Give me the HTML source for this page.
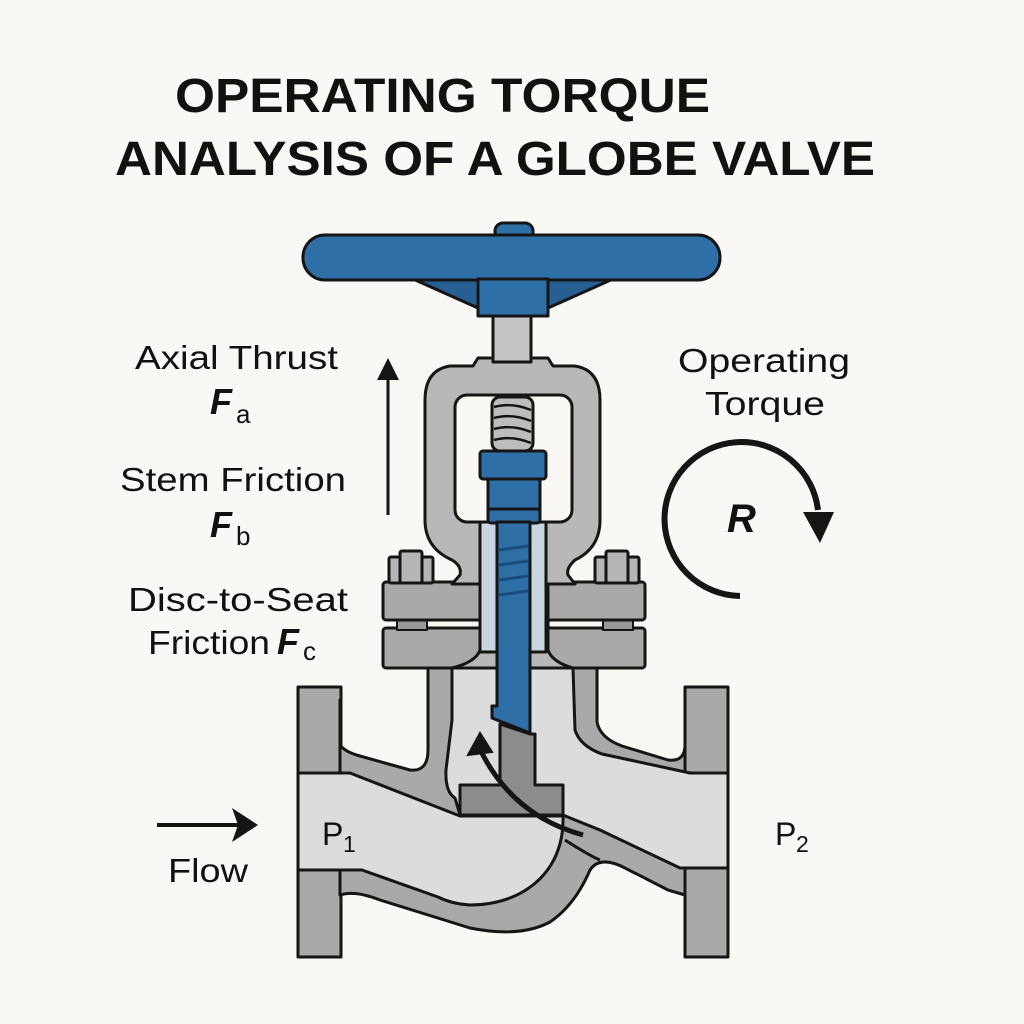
<!DOCTYPE html>
<html><head><meta charset="utf-8"><style>
html,body{margin:0;padding:0;background:#f9f8f5;}
svg{display:block;}
text{font-family:"Liberation Sans",sans-serif;fill:#111;}
</style></head><body>
<svg width="1024" height="1024" viewBox="0 0 1024 1024" xmlns="http://www.w3.org/2000/svg">
<rect width="1024" height="1024" fill="#f9f8f5"/>
<text x="175" y="112" font-size="48" font-weight="bold" textLength="535" lengthAdjust="spacingAndGlyphs">OPERATING TORQUE</text>
<text x="115" y="175" font-size="48" font-weight="bold" textLength="760" lengthAdjust="spacingAndGlyphs">ANALYSIS OF A GLOBE VALVE</text>

<g stroke="#151515" stroke-width="3" stroke-linejoin="round">
<rect x="298" y="687" width="43" height="270" fill="#a9a9a9"/>
<rect x="685" y="687" width="43" height="270" fill="#a9a9a9"/>
<path d="M340,700 L340,745 Q345,752 360,756 L410,770 Q428,772 428,750 L428,666 L597,666 L597,722 Q600,738 622,746 L668,760 Q685,762 685,745 L685,700 L685,895 L668,890 L625,868 Q600,855 590,870 Q575,905 550,922 Q520,938 470,928 L380,900 Q355,890 340,895 Z" fill="#a9a9a9"/>
<path d="M452,668 L573,668 L575,730 Q580,746 602,754 L690,773 L728,773 L728,868 L680,868 L600,830 Q570,818 563,815 L460,815 L455,798 Q445,792 446,770 L452,720 Z" fill="#dcdcdc"/>
<path d="M298,773 L350,773 L460,816 L563,816 C565,870 525,905 470,905 Q452,904 438,897 L362,870 L298,870 Z" fill="#dcdcdc"/>
<path d="M565,840 Q590,856 600,860" fill="none"/>

<rect x="383" y="628" width="262" height="40" rx="3" fill="#a9a9a9"/>
<rect x="397" y="618" width="30" height="12" fill="#999" stroke-width="2"/>
<rect x="603" y="618" width="30" height="12" fill="#999" stroke-width="2"/>
<rect x="383" y="582" width="262" height="38" rx="3" fill="#a9a9a9"/>
<rect x="389" y="557" width="44" height="26" rx="2" fill="#b5b5b5"/>
<rect x="400" y="551" width="22" height="32" rx="2" fill="#b5b5b5"/>
<rect x="595" y="557" width="44" height="26" rx="2" fill="#b5b5b5"/>
<rect x="606" y="551" width="22" height="32" rx="2" fill="#b5b5b5"/>
<path d="M478,358 L548,358 L553,366 L575,366 Q600,370 600,400 L600,520 Q600,548 575,560 Q566,568 568,575 L575,584 L548,584 L548,650 Q552,662 573,668 L452,668 Q476,662 480,650 L480,584 L452,584 L460,575 Q462,566 452,560 Q425,548 425,520 L425,400 Q425,370 450,366 L473,366 Z" fill="#b8b8b8"/>
<rect x="455" y="395" width="117" height="127" rx="12" fill="#f9f8f5"/>
<rect x="480" y="522" width="66" height="130" fill="#c9d6e0"/>
<rect x="493" y="312" width="38" height="50" fill="#c4c4c4"/>
<rect x="492" y="397" width="41" height="54" rx="8" fill="#bdbdbd"/>
<path d="M494,407 Q512,402 531,410 M494,418 Q512,413 531,421 M494,429 Q512,424 531,432 M494,440 Q512,435 531,443" fill="none" stroke-width="2.5"/>
<rect x="480" y="451" width="66" height="28" rx="3" fill="#2f6fa8"/>
<rect x="488" y="479" width="52" height="32" fill="#2f6fa8"/>
<rect x="488" y="509" width="52" height="14" rx="3" fill="#2f6fa8"/>
<path d="M497,522 L530,522 L530,733 L497,720 L492,718 L492,706 L497,706 Z" fill="#2f6fa8"/>
<path d="M499,550 L528,546 M499,565 L528,561 M499,580 L528,576 M499,595 L528,591" stroke="#1a4d7d" stroke-width="3"/>
<path d="M500,724 L530,734 L535,734 L535,785 L563,785 L563,815 L460,815 L460,785 L500,785 Z" fill="#8c8c8c"/>
<rect x="495" y="223" width="38" height="18" rx="8" fill="#2f6fa8"/>
<path d="M413,279 L613,279 L548,308 L478,308 Z" fill="#275f93"/>
<rect x="303" y="235" width="417" height="45" rx="22" fill="#2f6fa8"/>
<rect x="478" y="279" width="70" height="37" fill="#2f6fa8"/>
</g>

<path d="M583,835 Q510,815 478,745" fill="none" stroke="#151515" stroke-width="5"/>
<path d="M468,755 L480,733 L492,752 Z" fill="#151515" stroke="#151515" stroke-width="2"/>

<line x1="388" y1="515" x2="388" y2="370" stroke="#151515" stroke-width="3"/>
<path d="M377,380 L388,358 L399,380 Z" fill="#151515"/>

<line x1="157" y1="825" x2="250" y2="825" stroke="#151515" stroke-width="4"/>
<path d="M232,808 L258,825 L232,842 L238,825 Z" fill="#151515"/>

<path d="M740,596 A77,77 0 1 1 818,510" fill="none" stroke="#151515" stroke-width="6"/>
<path d="M803,512 L834,512 L820,543 Z" fill="#151515"/>
<text x="727" y="532" font-size="40" font-weight="bold" font-style="italic">R</text>

<text x="135" y="369" font-size="33" textLength="203" lengthAdjust="spacingAndGlyphs">Axial Thrust</text>
<text x="210" y="414" font-size="36" font-style="italic" font-weight="bold">F</text><text x="236" y="423" font-size="26">a</text>
<text x="120" y="491" font-size="33" textLength="226" lengthAdjust="spacingAndGlyphs">Stem Friction</text>
<text x="210" y="537" font-size="36" font-style="italic" font-weight="bold">F</text><text x="236" y="545" font-size="26">b</text>
<text x="128" y="611" font-size="33" textLength="220" lengthAdjust="spacingAndGlyphs">Disc-to-Seat</text>
<text x="148" y="654" font-size="33" textLength="122" lengthAdjust="spacingAndGlyphs">Friction</text>
<text x="277" y="654" font-size="36" font-style="italic" font-weight="bold">F</text><text x="303" y="660" font-size="26">c</text>
<text x="678" y="372" font-size="33" textLength="172" lengthAdjust="spacingAndGlyphs">Operating</text>
<text x="705" y="415" font-size="33" textLength="120" lengthAdjust="spacingAndGlyphs">Torque</text>
<text x="322" y="845" font-size="32">P</text><text x="343" y="852" font-size="23">1</text>
<text x="775" y="845" font-size="32">P</text><text x="796" y="852" font-size="23">2</text>
<text x="168" y="882" font-size="33" textLength="80" lengthAdjust="spacingAndGlyphs">Flow</text>
</svg>
</body></html>
